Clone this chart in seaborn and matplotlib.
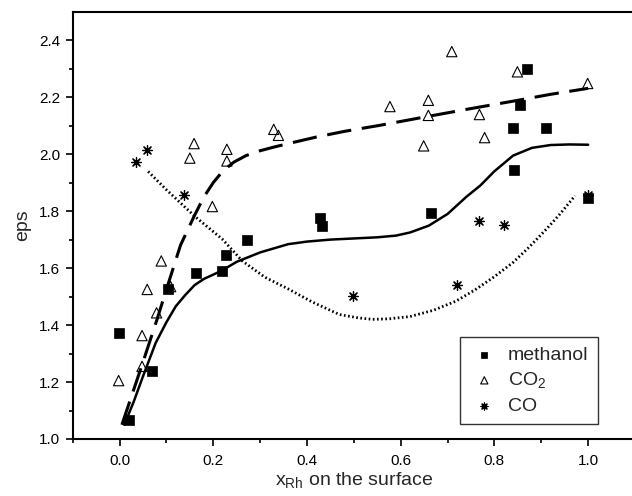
import matplotlib
matplotlib.use("Agg")
import matplotlib.pyplot as plt
import seaborn as sns
import pandas as pd

# ---- data ----
methanol_x = [-0.002, 0.021, 0.070, 0.103, 0.164, 0.218, 0.227, 0.273, 0.428, 0.433,
              0.665, 0.840, 0.842, 0.855, 0.870, 0.911, 1.0]
methanol_y = [1.371, 1.067, 1.239, 1.528, 1.581, 1.590, 1.645, 1.699, 1.776, 1.746,
              1.794, 2.090, 1.943, 2.174, 2.299, 2.093, 1.846]

co2_x = [-0.002, 0.048, 0.048, 0.059, 0.079, 0.089, 0.109, 0.150, 0.159, 0.198, 0.229,
         0.229, 0.329, 0.339, 0.577, 0.649, 0.659, 0.659, 0.709, 0.768, 0.779, 0.849, 0.999]
co2_y = [1.205, 1.255, 1.363, 1.525, 1.443, 1.625, 1.535, 1.986, 2.037, 1.816, 2.017,
         1.976, 2.087, 2.066, 2.167, 2.029, 2.189, 2.136, 2.360, 2.139, 2.058, 2.289, 2.248]

co_x = [0.036, 0.059, 0.138, 0.499, 0.720, 0.768, 0.820, 1.0]
co_y = [1.974, 2.013, 1.857, 1.502, 1.540, 1.764, 1.751, 1.858]

# fitted curves
fit_meth_x = [0.01, 0.03, 0.05, 0.077, 0.10, 0.12, 0.14, 0.16, 0.18, 0.217, 0.25, 0.30,
              0.36, 0.40, 0.45, 0.50, 0.55, 0.59, 0.62, 0.66, 0.70, 0.74, 0.77, 0.80,
              0.84, 0.88, 0.92, 0.96, 1.0]
fit_meth_y = [1.05, 1.13, 1.22, 1.337, 1.41, 1.466, 1.505, 1.54, 1.562, 1.59, 1.622, 1.655,
              1.684, 1.693, 1.70, 1.704, 1.708, 1.714, 1.725, 1.749, 1.79, 1.85, 1.89, 1.94,
              1.995, 2.022, 2.032, 2.034, 2.033]

fit_co2_x = [0.005, 0.05, 0.08, 0.10, 0.13, 0.16, 0.18, 0.20, 0.22, 0.244, 0.27, 0.30,
             0.33, 0.36, 0.42, 0.48, 0.555, 0.65, 0.75, 0.84, 0.92, 1.0]
fit_co2_y = [1.05, 1.27, 1.42, 1.525, 1.68, 1.785, 1.85, 1.90, 1.94, 1.972, 1.995, 2.012,
             2.025, 2.037, 2.06, 2.08, 2.101, 2.13, 2.16, 2.186, 2.21, 2.231]

fit_co_x = [0.061, 0.10, 0.161, 0.219, 0.262, 0.31, 0.362, 0.41, 0.469, 0.51, 0.54, 0.576,
            0.62, 0.67, 0.718, 0.76, 0.80, 0.84, 0.875, 0.911, 0.94, 0.972]
fit_co_y = [1.939, 1.875, 1.781, 1.702, 1.625, 1.568, 1.525, 1.482, 1.437, 1.425, 1.420,
            1.422, 1.43, 1.452, 1.484, 1.525, 1.57, 1.62, 1.675, 1.737, 1.79, 1.854]

x_ticks = [0.0, 0.2, 0.4, 0.6, 0.8, 1.0]
y_ticks = [1.0, 1.2, 1.4, 1.6, 1.8, 2.0, 2.2, 2.4]

sns.set_style("ticks")
plt.rcParams['font.family'] = ['Liberation Sans', 'DejaVu Sans']
plt.rcParams['mathtext.fontset'] = 'custom'
plt.rcParams['mathtext.rm'] = 'Liberation Sans'

fig = plt.figure(figsize=(6.32, 4.96), dpi=100)
W, H = 632, 496
left, right, top, bottom = 72.7, 635.0, 11.7, 439.0
ax = fig.add_axes([left / W, 1 - bottom / H, (right - left) / W, (bottom - top) / H])

df_m = pd.DataFrame({"x": methanol_x, "y": methanol_y})
df_c2 = pd.DataFrame({"x": co2_x, "y": co2_y})
df_c = pd.DataFrame({"x": co_x, "y": co_y})

sns.lineplot(x=fit_meth_x, y=fit_meth_y, ax=ax, color="black", lw=1.8,
             linestyle="-", sort=False, legend=False)
sns.lineplot(x=fit_co2_x, y=fit_co2_y, ax=ax, color="black", lw=2.2,
             sort=False, legend=False, dashes=False).lines[-1].set_dashes([8, 3.5])
sns.lineplot(x=fit_co_x, y=fit_co_y, ax=ax, color="black", lw=2.0,
             sort=False, legend=False).lines[-1].set_dashes([0.6, 0.9])
for ln in ax.lines:
    ln.set_solid_joinstyle("round")
    ln.set_dash_joinstyle("round")

sns.scatterplot(data=df_m, x="x", y="y", ax=ax, marker="s", s=42,
                color="black", edgecolor="black", linewidth=0.5, label="methanol", zorder=3)
sns.scatterplot(data=df_c2, x="x", y="y", ax=ax, marker="^", s=55,
                fc="none", ec="black", linewidth=0.8, label="CO$_{\\mathregular{2}}$", zorder=3)
sns.scatterplot(data=df_c, x="x", y="y", ax=ax, marker=(8, 2, 0), s=50,
                color="black", ec="black", linewidth=0.9, label="CO", zorder=3)

ax.set_xlim(-0.1, 1.1)
ax.set_ylim(1.0, 2.5)
ax.set_xticks(x_ticks)
ax.set_xticklabels([f"{v:.1f}" for v in x_ticks])
ax.set_yticks(y_ticks)
ax.set_yticklabels([f"{v:.1f}" for v in y_ticks])
ax.set_xticks([-0.1, 0.1, 0.3, 0.5, 0.7, 0.9, 1.1], minor=True)
ax.set_yticks([1.1, 1.3, 1.5, 1.7, 1.9, 2.1, 2.3], minor=True)
ax.tick_params(axis="both", which="major", direction="out", length=5, width=1.2,
               labelsize=11, color="black", labelcolor="black", pad=4)
ax.tick_params(axis="x", which="major", pad=6)
ax.tick_params(axis="both", which="minor", direction="out", length=3, width=1.2,
               color="black")
for sp in ax.spines.values():
    sp.set_linewidth(1.5)
    sp.set_color("black")

ax.set_xlabel("x$_{\\mathregular{Rh}}$ on the surface", fontsize=14, labelpad=2)
ax.set_ylabel("eps", fontsize=14, labelpad=6)

leg = ax.legend(loc="upper left", bbox_to_anchor=(460 / W, 1 - 336.7 / H),
                bbox_transform=fig.transFigure, frameon=True, fancybox=False,
                edgecolor="black", fontsize=14, handletextpad=0.45,
                borderpad=0.5, labelspacing=0.33, handlelength=1.5, markerscale=0.7,
                borderaxespad=0)
leg.get_frame().set_linewidth(1.0)

fig.savefig("out.png", dpi=100)
